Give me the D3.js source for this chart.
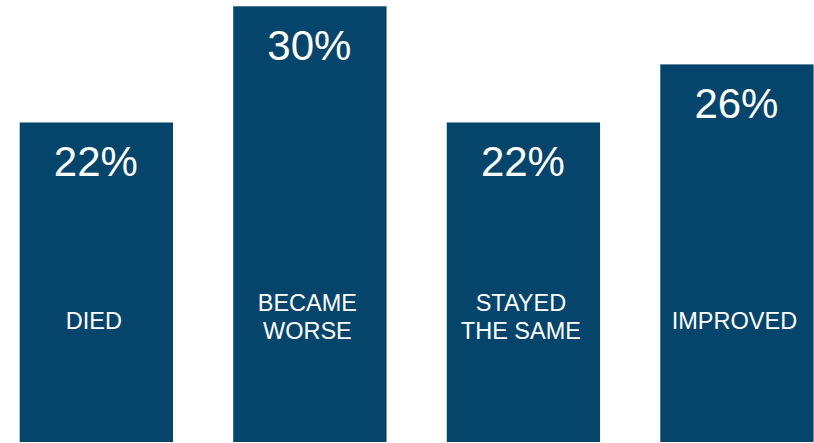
<!DOCTYPE html>
<html>
<head>
<meta charset="utf-8">
<script src="https://cdn.jsdelivr.net/npm/d3@7/dist/d3.min.js"></script>
<style>
  html, body { margin: 0; padding: 0; background: #ffffff; }
  svg { display: block; }
  text { font-family: "Liberation Sans", Arial, Helvetica, sans-serif; fill: #ffffff; }
</style>
</head>
<body>
<svg id="chart" width="814" height="443"></svg>
<script>
// Outcome categories (label lines) and their shares in percent
const categories = ["DIED", "BECAME WORSE", "STAYED THE SAME", "IMPROVED"];
const categoryLines = [["DIED"], ["BECAME", "WORSE"], ["STAYED", "THE SAME"], ["IMPROVED"]];
const values = [22, 30, 22, 26];

const svg = d3.select("#chart");
const barColor = "#05446b";

const x = d3.scaleBand()
  .domain(categories)
  .range([19.7, 813.6])
  .paddingInner(0.282)
  .paddingOuter(0);

const y = d3.scaleLinear()
  .domain([0, 30])
  .range([442, 6.3]);

const data = categories.map((c, i) => ({ cat: c, value: values[i], lines: categoryLines[i] }));

const g = svg.append("g");

// Bars
g.selectAll("rect.bar")
  .data(data)
  .join("rect")
  .attr("class", "bar")
  .attr("x", d => x(d.cat))
  .attr("y", d => y(d.value))
  .attr("width", x.bandwidth())
  .attr("height", d => y(0) - y(d.value))
  .attr("fill", barColor);

// Value labels near the top of each bar
g.selectAll("text.value")
  .data(data)
  .join("text")
  .attr("class", "value")
  .attr("x", d => x(d.cat) + x.bandwidth() / 2 - 0.5)
  .attr("y", d => y(d.value) + 53.5)
  .attr("text-anchor", "middle")
  .style("font-size", "42px")
  .text(d => d.value + "%");

// Category labels inside the bars
const lineHeight = 28;
const labels = g.selectAll("text.cat")
  .data(data)
  .join("text")
  .attr("class", "cat")
  .attr("text-anchor", "middle")
  .style("font-size", "23.5px");

labels.each(function(d) {
  const t = d3.select(this);
  const cx = x(d.cat) + x.bandwidth() / 2 - 2.5;
  const firstBaseline = 328.5 - (d.lines.length - 1) * 18;
  d.lines.forEach((ln, i) => {
    t.append("tspan")
      .attr("x", cx)
      .attr("y", firstBaseline + i * lineHeight)
      .text(ln);
  });
});
</script>
</body>
</html>
